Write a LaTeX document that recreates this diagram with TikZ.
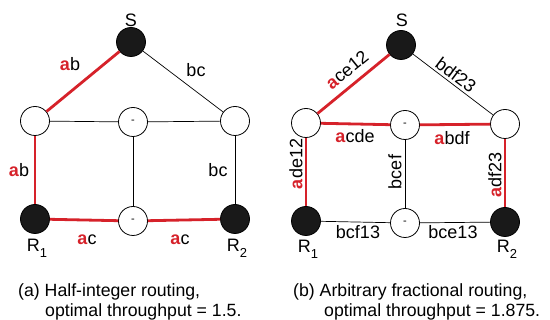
\documentclass[tikz,border=0pt]{standalone}
\usepackage{fontspec}
\setmainfont{Liberation Sans}
\definecolor{flowred}{RGB}{214,34,42}
\definecolor{nodeblack}{RGB}{25,25,25}
\newcommand{\ra}{\textcolor{flowred}{\textbf{a}}}
\newcommand{\rsub}[1]{R\raisebox{-0.32em}{\fontsize{13}{13}\selectfont #1}}
\begin{document}
\begin{tikzpicture}[x=1pt,y=-1pt,
  vtx/.style={circle,draw=black,line width=0.8pt,minimum size=29pt,inner sep=0pt,font=\fontsize{11}{11}\selectfont},
  term/.style={vtx,fill=nodeblack},
  relay/.style={vtx,fill=white},
  thin/.style={draw=black,line width=0.7pt},
  flow/.style={draw=flowred,line width=2.8pt},
  lbl/.style={inner sep=0pt,font=\fontsize{18}{18}\selectfont},
  captext/.style={inner sep=0pt,anchor=base west,font=\fontsize{17.7}{20}\selectfont}]
\useasboundingbox (0,0) rectangle (550,320);

% ---------- (a) half-integer routing ----------
\node[term]  (aS)  at (131,42)  {};
\node[relay] (aUL) at (35,121)  {};
\node[relay] (aUM) at (133,122) {-};
\node[relay] (aUR) at (235,121) {};
\node[term]  (aR1) at (35,219)  {};
\node[relay] (aLM) at (133,221) {-};
\node[term]  (aR2) at (235,219) {};

\draw[thin] (aS) -- (aUR);
\draw[thin] (aUL) -- (aUM);
\draw[thin] (aUM) -- (aUR);
\draw[thin] (aUR) -- (aR2);
\draw[thin] (aUM) -- (aLM);
\draw[flow] (aS) -- (aUL);
\draw[flow] (aUL) -- (aR1);
\draw[flow] (aR1) -- (aLM);
\draw[flow] (aLM) -- (aR2);

\node[lbl] (aLs)  at (131,20)  {S};
\node[lbl] (aLr1) at (37,248)  {\rsub{1}};
\node[lbl] (aLr2) at (237,248) {\rsub{2}};
\node[lbl] (ae1) at (70,64)   {\ra b};
\node[lbl] (ae2) at (196,70)  {bc};
\node[lbl] (ae3) at (19,170)  {\ra b};
\node[lbl] (ae4) at (218,170) {bc};
\node[lbl] (ae5) at (87,240)  {\ra c};
\node[lbl] (ae6) at (180,240) {\ra c};

\node[captext] (acap1) at (18,297) {(a) Half-integer routing,};
\node[captext] (acap2) at (45,317) {optimal throughput = 1.5.};

% ---------- (b) arbitrary fractional routing ----------
\node[term]  (bS)  at (401,45)  {};
\node[relay] (bUL) at (306,123) {};
\node[relay] (bUM) at (405,125) {-};
\node[relay] (bUR) at (505,124) {};
\node[term]  (bR1) at (306,221) {};
\node[relay] (bLM) at (405,223) {-};
\node[term]  (bR2) at (505,222) {};

\draw[thin] (bS) -- (bUR);
\draw[thin] (bUM) -- (bLM);
\draw[thin] (bR1) -- (bLM);
\draw[thin] (bLM) -- (bR2);
\draw[flow] (bS) -- (bUL);
\draw[flow] (bUL) -- (bUM);
\draw[flow] (bUM) -- (bUR);
\draw[flow] (bUL) -- (bR1);
\draw[flow] (bUR) -- (bR2);

\node[lbl] (bLs)  at (402,20)  {S};
\node[lbl] (bLr1) at (308,249) {\rsub{1}};
\node[lbl] (bLr2) at (507,249) {\rsub{2}};
\node[lbl,rotate=39]  (be1) at (347,70)  {\ra ce12};
\node[lbl,rotate=-37] (be2) at (456,75)  {bdf23};
\node[lbl] (be3) at (355,136) {\ra cde};
\node[lbl] (be4) at (452,138) {\ra bdf};
\node[lbl,rotate=90] (be5) at (296,164) {\ra de12};
\node[lbl,rotate=90] (be6) at (395,172) {bcef};
\node[lbl,rotate=90] (be7) at (495,175) {\ra df23};
\node[lbl] (be8) at (358,232) {bcf13};
\node[lbl] (be9) at (453,232) {bce13};

\node[captext] (bcap1) at (293,297) {(b) Arbitrary fractional routing,};
\node[captext] (bcap2) at (324,317) {optimal throughput = 1.875.};
\end{tikzpicture}
\end{document}
